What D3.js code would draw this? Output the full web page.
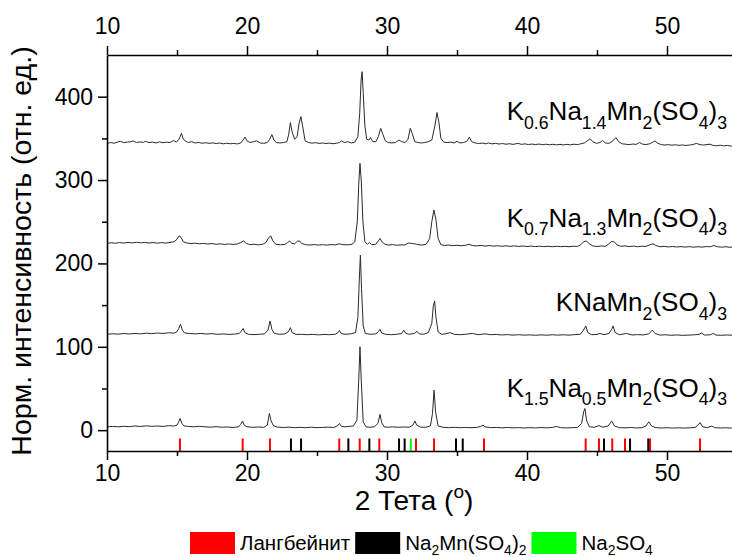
<!DOCTYPE html>
<html>
<head>
<meta charset="utf-8">
<script src="https://cdn.jsdelivr.net/npm/d3@7"></script>
<style>
  body { margin: 0; background: #fff; }
  text { font-family: "Liberation Sans", Arial, sans-serif; }
</style>
</head>
<body>
<svg id="chart" width="732" height="557"></svg>
<script>
"use strict";

// XRD patterns, [2theta, intensity] (already offset)
const patternK15 = [
  [10,4],[10.4,4.5],[10.8,4],[11.2,4.6],[11.6,4.2],[12,5],[12.4,4.4],[12.8,5.2],[13.2,4.6],[13.6,5],[14,4.5],[14.4,5.3],[14.8,5],
  [15.0,6],[15.1,9],[15.22,14],[15.35,8],[15.5,5],[15.8,4.5],[16.2,4],[16.6,4.6],[17,4],[17.4,3.6],[17.8,4.2],[18.2,3.5],[18.6,3.8],
  [19,3.2],[19.4,4],[19.55,7],[19.68,11],[19.8,6],[20,4],[20.4,3.4],[20.8,3.8],[21.2,3.4],[21.45,6],[21.6,20],[21.72,11],[21.9,5],
  [22.2,3.6],[22.6,3.2],[23,3.6],[23.4,3],[23.8,3.4],[24.2,3],[24.6,3.5],[25,3],[25.4,3.3],[25.8,3.6],[26.2,3.2],[26.45,5],[26.6,8],
  [26.75,4.5],[27,4],[27.3,4.5],[27.6,5],[27.85,12],[27.98,60],[28.07,100],[28.16,60],[28.3,10],[28.5,4],[28.8,3.5],[29.1,4],
  [29.35,8],[29.5,19],[29.62,9],[29.8,4],[30.1,3.5],[30.4,4],[30.8,3.4],[31.2,3.8],[31.6,3.5],[31.85,6],[32.0,11],[32.12,6],[32.4,3.5],
  [32.8,3.6],[33.1,5],[33.25,20],[33.36,48],[33.47,22],[33.65,5],[34,3.5],[34.4,3],[34.8,3.4],[35.2,3],[35.6,3.2],[36,3],[36.4,3.3],
  [36.7,4.5],[36.86,6],[37,4],[37.4,3],[37.8,3.3],[38.2,2.8],[38.6,3.2],[39,2.8],[39.4,3],[39.8,2.6],[40.2,3],[40.6,2.7],[41,3.1],
  [41.4,2.8],[41.8,3.2],[42.1,4.5],[42.4,3],[42.8,2.7],[43.2,3],[43.6,3.2],[43.9,8],[44.05,22],[44.14,26],[44.25,12],[44.45,4],
  [44.8,3.4],[45.14,5.5],[45.4,3.5],[45.8,5],[46.05,11],[46.25,5],[46.6,3],[47,2.8],[47.4,3.2],[47.8,2.7],[48.2,3],[48.5,5],[48.7,10],
  [48.9,5],[49.2,3],[49.6,2.6],[50,2.9],[50.4,2.5],[50.8,2.8],[51.2,2.5],[51.6,2.8],[52,3.2],[52.2,6],[52.36,9],[52.55,4],[52.9,3],
  [53.2,5],[53.4,3],[53.8,2.6],[54.2,2.8],[54.6,2.5],[55,2.6]
];
const patternKNa = [
  [10,115],[10.4,115.6],[10.8,115.2],[11.2,115.9],[11.6,115.4],[12,116],[12.4,115.5],[12.8,116.3],[13.2,115.8],[13.6,116.5],[14,116],
  [14.4,116.8],[14.8,116.4],[15.0,118],[15.12,122],[15.25,127],[15.38,120],[15.55,116.5],[15.9,116],[16.3,115.5],[16.7,116],
  [17.1,115.3],[17.5,115.8],[17.9,115],[18.3,115.4],[18.7,114.8],[19.1,115.2],[19.45,116],[19.6,119],[19.72,122],[19.85,117],
  [20.1,115],[20.5,114.6],[20.9,115],[21.25,115.5],[21.5,120],[21.65,131],[21.78,121],[21.95,116],[22.3,115],[22.7,115.4],
  [22.95,118],[23.1,123],[23.22,117],[23.5,114.8],[23.9,115],[24.3,114.5],[24.7,114.9],[25.1,114.3],[25.5,114.8],[25.9,114.5],
  [26.3,115],[26.5,117],[26.6,119.5],[26.72,116],[27,115],[27.4,115.5],[27.75,117],[27.92,135],[28.02,180],[28.1,210],[28.18,170],
  [28.3,125],[28.45,116],[28.8,115],[29.2,115.5],[29.38,118],[29.5,121],[29.62,116.5],[29.9,115],[30.3,114.5],[30.7,115],[31.05,116],
  [31.2,120],[31.35,116],[31.6,115],[31.95,116],[32.15,118.5],[32.3,115.5],[32.6,115],[32.95,117],[33.2,128],[33.3,148],[33.4,155],
  [33.5,135],[33.65,118],[33.9,115],[34.2,115.5],[34.5,117],[34.8,115],[35.2,114.5],[35.6,115],[36.1,116],[36.5,114.5],[37,115.5],
  [37.4,114.5],[37.8,114.8],[38.2,114.2],[38.6,114.6],[39,114],[39.4,114.5],[39.8,114],[40.2,114.3],[40.6,113.8],[41,114.3],
  [41.4,113.9],[41.8,114.4],[42.2,114],[42.6,114.4],[43,114],[43.4,114.6],[43.8,115],[44.0,119],[44.2,125],[44.35,117],[44.6,114.5],
  [45,114.8],[45.2,116],[45.5,114.5],[45.85,116],[46.05,121],[46.15,125],[46.3,117],[46.6,114.5],[47.1,116],[47.5,114.2],[47.9,114.6],
  [48.3,114.2],[48.7,115.5],[48.95,120],[49.15,116],[49.5,114],[49.9,114.4],[50.3,113.8],[50.7,114.2],[51.1,113.7],[51.5,114],
  [51.9,114.3],[52.3,115],[52.45,116.5],[52.7,114],[53.1,114.5],[53.3,116],[53.5,114],[53.9,113.8],[54.3,114.2],[54.7,113.8],[55,114]
];
const patternK07 = [
  [10,224],[10.3,224.8],[10.6,224.2],[10.9,225],[11.2,224.4],[11.5,225.3],[11.8,224.6],[12.1,225.4],[12.4,224.7],[12.7,225.2],
  [13,224.5],[13.3,225],[13.6,224.3],[13.9,225],[14.2,224.4],[14.5,225.2],[14.8,226],[15.0,229],[15.15,233],[15.3,231],[15.45,226],
  [15.7,224.5],[16,223.8],[16.3,224.3],[16.6,223.5],[16.9,224],[17.2,223.3],[17.5,223.8],[17.8,223],[18.1,223.5],[18.4,222.8],
  [18.7,223.4],[19,222.8],[19.3,223.3],[19.55,225],[19.75,227],[19.95,224],[20.2,222.5],[20.5,223],[20.8,222.3],[21.1,222.8],
  [21.35,225],[21.55,231],[21.7,233],[21.85,227],[22.05,223],[22.4,222.4],[22.7,222.8],[22.9,225],[23.05,227],[23.2,224],[23.4,223.5],
  [23.6,226.5],[23.75,227],[23.9,224],[24.2,222.5],[24.5,222],[24.8,222.6],[25.1,222],[25.4,222.5],[25.7,222],[26,222.6],[26.3,222.2],
  [26.6,223.5],[26.85,222.5],[27.2,222.3],[27.5,223],[27.7,226],[27.88,250],[27.98,295],[28.07,320],[28.16,300],[28.28,250],
  [28.42,226],[28.6,223],[28.75,225],[28.9,222.5],[29.2,223],[29.38,227],[29.5,230],[29.63,226],[29.85,223],[30.1,222],[30.4,222.5],
  [30.7,221.8],[31,222.3],[31.25,222],[31.55,224.5],[31.75,224],[31.95,223.6],[32.2,222.6],[32.5,222],[32.8,223],[33.05,230],
  [33.2,250],[33.35,264],[33.5,252],[33.65,230],[33.85,222.5],[34.1,221.5],[34.4,222],[34.7,221.3],[35,221.8],[35.3,221.2],
  [35.6,221.7],[35.85,223],[36.1,221.5],[36.4,221],[36.7,221.6],[37,220.8],[37.3,221.4],[37.6,220.8],[37.9,221.2],[38.2,220.6],
  [38.5,221.1],[38.8,220.5],[39.1,221],[39.4,220.4],[39.7,220.9],[40,220.3],[40.3,220.8],[40.6,220.2],[40.9,220.7],[41.2,220.1],
  [41.5,220.6],[41.8,220],[42.1,220.6],[42.4,220.1],[42.7,220.5],[43,220],[43.3,220.6],[43.6,220.4],[43.85,222.5],[44.05,226],
  [44.25,227],[44.45,223.5],[44.7,221],[45,220.3],[45.3,221],[45.6,220.5],[45.85,223.5],[46.05,226.5],[46.25,225.5],[46.45,222],
  [46.7,220.5],[47,221],[47.3,220.2],[47.6,220.8],[47.9,220],[48.2,220.6],[48.5,220.4],[48.8,222.5],[49.0,223.5],[49.2,221.5],
  [49.5,220],[49.8,220.5],[50.1,219.8],[50.4,220.3],[50.7,219.7],[51,220.2],[51.3,219.6],[51.6,220.1],[51.9,219.5],[52.2,220],
  [52.5,219.6],[52.8,220.2],[53.1,220],[53.35,221.5],[53.6,220],[53.9,219.5],[54.2,220],[54.5,219.4],[55,219.8]
];
const patternK06 = [
  [10,344],[10.25,345],[10.5,344.2],[10.75,345.5],[10.95,346.5],[11.2,344.8],[11.45,345.6],[11.7,346],[11.85,347],[12.1,345],
  [12.35,345.8],[12.6,345.2],[12.75,346.5],[13,345],[13.25,345.5],[13.5,344.5],[13.75,345.8],[14,344.8],[14.25,345.5],[14.5,345],
  [14.75,347.5],[14.95,345.5],[15.15,349],[15.32,356],[15.45,349],[15.6,347],[15.8,345],[16.05,346],[16.3,344.5],[16.55,345],
  [16.8,344.2],[17.05,344.8],[17.3,344],[17.55,344.6],[17.8,343.8],[18.05,344.4],[18.3,343.5],[18.55,344.2],[18.8,343.5],[19.05,344],
  [19.3,343.3],[19.55,344.5],[19.72,348],[19.86,351.5],[20.0,347],[20.2,345],[20.45,346],[20.7,347],[20.95,344.5],[21.2,344],
  [21.45,345],[21.62,349],[21.78,354.5],[21.92,348],[22.1,345],[22.35,344.5],[22.6,345],[22.85,346],[22.98,355],[23.1,369],
  [23.22,358],[23.4,349],[23.58,352],[23.72,368],[23.85,376],[23.98,364],[24.15,347],[24.4,345],[24.65,344.3],[24.9,344.8],
  [25.15,344],[25.4,344.5],[25.65,343.8],[25.9,344.3],[26.15,343.6],[26.4,344.2],[26.6,345],[26.76,347],[26.95,345],[27.2,346],
  [27.45,344.5],[27.7,345.5],[27.92,352],[28.05,380],[28.15,420],[28.22,430],[28.3,405],[28.42,365],[28.55,349],[28.7,348],
  [28.82,351],[28.98,346],[29.2,346],[29.38,352],[29.55,362],[29.7,355],[29.88,347],[30.1,345],[30.35,344.5],[30.6,345],[30.85,348],
  [31.05,346],[31.3,345],[31.5,349],[31.66,362],[31.8,356],[31.98,346],[32.2,345],[32.45,344.5],[32.7,345],[32.95,346],[33.2,348],
  [33.42,365],[33.57,381],[33.7,370],[33.85,350],[34.05,345.5],[34.3,345],[34.55,345.5],[34.8,344.5],[35.0,346.5],[35.2,344.5],
  [35.45,345],[35.7,346.5],[35.88,351.5],[36.05,346],[36.3,344.5],[36.55,343.8],[36.8,344.3],[37.05,343.5],[37.25,344.5],[37.5,343.4],
  [37.75,344],[38,343.2],[38.25,343.8],[38.5,343],[38.75,343.6],[39,342.8],[39.35,344],[39.6,342.8],[39.85,343.4],[40.1,342.6],
  [40.35,343.2],[40.6,342.5],[40.85,343.2],[41.1,342.4],[41.35,343],[41.6,342.3],[41.85,342.9],[42.1,342.2],[42.35,342.8],
  [42.6,342.2],[42.85,342.8],[43.1,342.2],[43.35,343],[43.6,342.5],[43.85,343.5],[44.1,344.5],[44.3,347],[44.5,349.5],[44.7,346],
  [44.95,344],[45.2,345],[45.4,347.5],[45.6,344.5],[45.85,344],[46.1,346.5],[46.35,351],[46.55,346],[46.8,343.5],[47.05,343],
  [47.3,342.5],[47.55,343.2],[47.8,342.8],[48.05,345],[48.25,343],[48.5,342.6],[48.75,343.5],[48.95,345],[49.14,347],[49.35,344],
  [49.6,342.5],[49.85,342],[50.1,342.5],[50.35,341.8],[50.6,342.3],[50.85,341.6],[51.1,342.1],[51.35,341.5],[51.6,342],[51.85,342.5],
  [52.1,344],[52.35,342.5],[52.6,342],[52.85,342.6],[53.07,343],[53.3,341.5],[53.55,341.2],[53.8,341.8],[54.05,341],[54.3,341.5],
  [54.55,340.8],[55,341]
];

// sample labels (_{} = subscript) and the intensity level of their baseline
const sampleNames = ["K_{1.5}Na_{0.5}Mn_{2}(SO_{4})_{3}", "KNaMn_{2}(SO_{4})_{3}",
                     "K_{0.7}Na_{1.3}Mn_{2}(SO_{4})_{3}", "K_{0.6}Na_{1.4}Mn_{2}(SO_{4})_{3}"];
const sampleLabelAt = [40, 143, 244, 372];

// reference reflections, 2theta
const refLangbeinite = [15.21, 19.69, 21.64, 26.59, 28.05, 29.45, 32.07, 33.36, 36.93, 44.19, 45.14, 46.09, 47.0, 48.79, 52.36];
const refNa2Mn = [23.14, 23.86, 27.24, 28.74, 30.86, 31.26, 34.93, 35.41, 45.5, 47.36, 48.66];
const refNa2SO4 = [31.7];
const refNames = ["Лангбейнит", "Na_{2}Mn(SO_{4})_{2}", "Na_{2}SO_{4}"];
const refColors = ["#ff0000", "#000000", "#00ff00"];

const xMajor = [10, 20, 30, 40, 50];
const xMinor = [15, 25, 35, 45, 55];
const yMajor = [0, 100, 200, 300, 400];
const yMinor = [50, 150, 250, 350];

const svg = d3.select("#chart");
const x = d3.scaleLinear().domain([10, 55]).range([107, 737]);
const y = d3.scaleLinear().domain([-25, 450]).range([451, 55]);

// text with _{sub} and ^{sup} parts
function richText(sel, str, size, subShift) {
  const down = subShift === undefined ? 0.33 : subShift;
  const parts = str.split(/(_\{[^}]*\}|\^\{[^}]*\})/).filter(function(s) { return s.length; });
  let shift = 0;
  parts.forEach(function(p) {
    let target = 0, fs = size, txt = p;
    if (p[0] === "_" && p[1] === "{") { target = size * down; fs = size * 0.68; txt = p.slice(2, -1); }
    else if (p[0] === "^" && p[1] === "{") { target = -size * 0.42; fs = size * 0.68; txt = p.slice(2, -1); }
    sel.append("tspan").attr("font-size", fs).attr("dy", target - shift).text(txt);
    shift = target;
  });
}

// patterns
const line = d3.line().x(function(d) { return x(d[0]); }).y(function(d) { return y(d[1]); });
[patternK15, patternKNa, patternK07, patternK06].forEach(function(p) {
  svg.append("path").datum(p)
    .attr("d", line)
    .attr("fill", "none")
    .attr("stroke", "#2a2a2a")
    .attr("stroke-width", 1)
    .attr("stroke-linejoin", "round");
});

// reference bars
[refLangbeinite, refNa2Mn, refNa2SO4].forEach(function(list, i) {
  svg.append("g").selectAll("line").data(list).join("line")
    .attr("x1", function(d) { return x(d); })
    .attr("x2", function(d) { return x(d); })
    .attr("y1", y(-10))
    .attr("y2", y(-25))
    .attr("stroke", refColors[i])
    .attr("stroke-width", 2);
});

// sample labels
sampleNames.forEach(function(name, i) {
  const t = svg.append("text")
    .attr("x", 727)
    .attr("y", y(sampleLabelAt[i]))
    .attr("text-anchor", "end")
    .attr("fill", "#000");
  richText(t, name, 26);
});

// axes
function styleAxis(g, size) {
  g.attr("font-family", null).attr("font-size", size);
  g.selectAll(".domain").attr("stroke", "#000").attr("stroke-width", 1.6);
  g.selectAll(".tick line").attr("stroke", "#000").attr("stroke-width", 1.5);
  g.selectAll(".tick text").attr("fill", "#000");
}
function minor(g) {
  g.select(".domain").remove();
  g.selectAll(".tick line").attr("stroke", "#000").attr("stroke-width", 1.5);
}

svg.append("g").attr("transform", "translate(0," + y(-25) + ")")
  .call(d3.axisBottom(x).tickValues(xMinor).tickSize(5).tickFormat("")).call(minor);
svg.append("g").attr("transform", "translate(0," + y(-25) + ")")
  .call(d3.axisBottom(x).tickValues(xMajor).tickSize(9).tickSizeOuter(0).tickPadding(5))
  .call(styleAxis, 23);

svg.append("g").attr("transform", "translate(0," + y(450) + ")")
  .call(d3.axisTop(x).tickValues(xMinor).tickSize(5).tickFormat("")).call(minor);
svg.append("g").attr("transform", "translate(0," + y(450) + ")")
  .call(d3.axisTop(x).tickValues(xMajor).tickSize(9).tickSizeOuter(0).tickPadding(12))
  .call(styleAxis, 23);

svg.append("g").attr("transform", "translate(" + x(10) + ",0)")
  .call(d3.axisLeft(y).tickValues(yMinor).tickSize(5).tickFormat("")).call(minor);
svg.append("g").attr("transform", "translate(" + x(10) + ",0)")
  .call(d3.axisLeft(y).tickValues(yMajor).tickSize(9).tickSizeOuter(0).tickPadding(5))
  .call(styleAxis, 23);

// axis titles
const xTitle = svg.append("text")
  .attr("x", 414).attr("y", 510)
  .attr("text-anchor", "middle").attr("fill", "#000");
richText(xTitle, "2 Тета (^{o})", 28);

svg.append("text")
  .attr("transform", "translate(31,251) rotate(-90)")
  .attr("text-anchor", "middle")
  .attr("font-size", 28.5)
  .attr("fill", "#000")
  .text("Норм. интенсивность (отн. ед.)");

// legend
let lx = 190;
refNames.forEach(function(name, i) {
  svg.append("rect")
    .attr("x", lx).attr("y", 532).attr("width", 45).attr("height", 22)
    .attr("fill", refColors[i]);
  const t = svg.append("text")
    .attr("x", lx + 50).attr("y", 550).attr("fill", "#000");
  richText(t, name, 20.5, 0.24);
  lx += 50 + t.node().getComputedTextLength() + 5;
});
</script>
</body>
</html>
